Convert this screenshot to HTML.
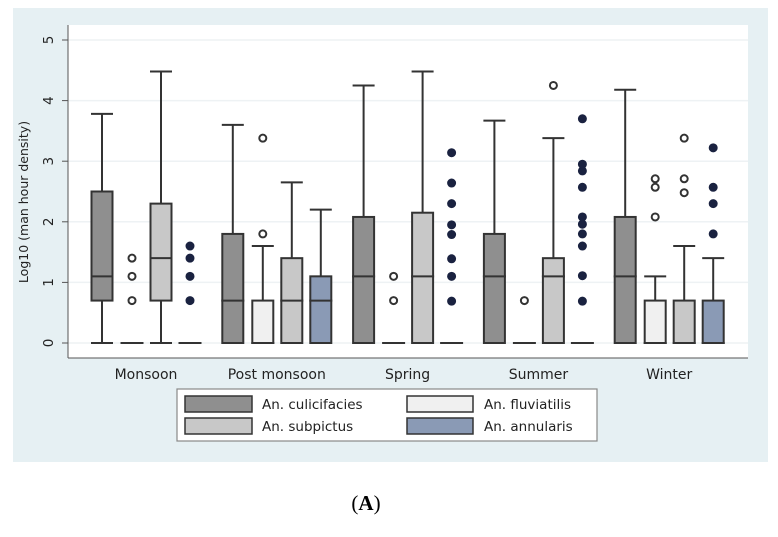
<!DOCTYPE html>
<html><head><meta charset="utf-8"><style>
body{margin:0;background:#fff;}
svg{display:block;font-family:"DejaVu Sans","Liberation Sans",sans-serif;}
</style></head><body>
<svg id="chart" width="778" height="537">
<rect x="13" y="8" width="755" height="454" fill="#e6f0f3"/>
<rect x="68" y="25" width="680" height="333" fill="#fff"/>
<g id="grid"></g>
<line x1="68" y1="25" x2="68" y2="358" stroke="#555" stroke-width="1"/>
<line x1="68" y1="358" x2="748" y2="358" stroke="#555" stroke-width="1"/>
<g id="marks"></g>
<text transform="translate(28,202) rotate(-90)" text-anchor="middle" font-size="12.5" fill="#222">Log10 (man hour density)</text>
<g>
<rect x="177" y="389" width="420" height="52" fill="#fff" stroke="#888" stroke-width="1.2"/>
<rect x="185" y="396" width="67" height="16" fill="#8f8f8f" stroke="#333" stroke-width="1.5"/>
<text x="262" y="409" font-size="13.5" fill="#222">An. culicifacies</text>
<rect x="407" y="396" width="66" height="16" fill="#f0f0f0" stroke="#333" stroke-width="1.5"/>
<text x="484" y="409" font-size="13.5" fill="#222">An. fluviatilis</text>
<rect x="185" y="418" width="67" height="16" fill="#c8c8c8" stroke="#333" stroke-width="1.5"/>
<text x="262" y="431" font-size="13.5" fill="#222">An. subpictus</text>
<rect x="407" y="418" width="66" height="16" fill="#8a9ab5" stroke="#333" stroke-width="1.5"/>
<text x="484" y="431" font-size="13.5" fill="#222">An. annularis</text>
</g>
<text x="366" y="510" text-anchor="middle" font-family="Liberation Serif,serif" font-size="21" fill="#000">(<tspan font-weight="bold">A</tspan>)</text>
</svg>
<script>
const categories=["Monsoon","Post monsoon","Spring","Summer","Winter"];
const species=["culicifacies","fluviatilis","subpictus","annularis"];
const yTicks=[0,1,2,3,4,5];
// [whiskerLow, q1, median, q3, whiskerHigh] per category per species
const culicifacies=[[0,0.7,1.1,2.5,3.78],[0,0,0.7,1.8,3.6],[0,0,1.1,2.08,4.25],[0,0,1.1,1.8,3.67],[0,0,1.1,2.08,4.18]];
const fluviatilis=[[0,0,0,0,0],[0,0,0,0.7,1.6],[0,0,0,0,0],[0,0,0,0,0],[0,0,0,0.7,1.1]];
const subpictus=[[0,0.7,1.4,2.3,4.48],[0,0,0.7,1.4,2.65],[0,0,1.1,2.15,4.48],[0,0,1.1,1.4,3.38],[0,0,0,0.7,1.6]];
const annularis=[[0,0,0,0,0],[0,0,0.7,1.1,2.2],[0,0,0,0,0],[0,0,0,0,0],[0,0,0,0.7,1.4]];
const outCulicifacies=[[],[],[],[],[]];
const outFluviatilis=[[0.7,1.1,1.4],[1.8,3.38],[0.7,1.1],[0.7],[2.08,2.57,2.71]];
const outSubpictus=[[],[],[],[4.25],[2.48,2.71,3.38]];
const outAnnularis=[[0.7,1.1,1.4,1.6],[],[0.69,1.1,1.39,1.79,1.95,2.3,2.64,3.14],[0.69,1.11,1.6,1.8,1.96,2.08,2.57,2.84,2.95,3.7],[1.8,2.3,2.57,3.22]];

const boxes=[culicifacies,fluviatilis,subpictus,annularis];
const outs=[outCulicifacies,outFluviatilis,outSubpictus,outAnnularis];
const fills=["#8f8f8f","#f0f0f0","#c8c8c8","#8a9ab5"];
const NS="http://www.w3.org/2000/svg";
const y=v=>343-v*60.6;
const gx=i=>146+i*130.8;
const offs=[-44,-14,15,44];
const grid=document.getElementById('grid'),marks=document.getElementById('marks'),svg=document.getElementById('chart');
function mk(tag,attrs,parent){const e=document.createElementNS(NS,tag);for(const k in attrs)e.setAttribute(k,attrs[k]);parent.appendChild(e);return e;}
yTicks.forEach(t=>{
 const l=mk('line',{x1:68,x2:748,y1:y(t),y2:y(t),stroke:'#eef2f4','stroke-width':1.5},grid);
 
 
 const tk=mk('line',{x1:62,x2:68,y1:y(t),y2:y(t),stroke:'#555'},grid);
 
 
 const tx=mk('text',{transform:`translate(${53},${y(t)}) rotate(-90)`,'text-anchor':'middle','font-size':13.5,fill:'#222'},grid);
 tx.textContent=t;
 
 
});
categories.forEach((c,i)=>{
 const tx=mk('text',{x:gx(i),y:379,'text-anchor':'middle','font-size':14,fill:'#222'},svg);
 tx.textContent=c;
 
 
 species.forEach((s,j)=>{
  const cx=gx(i)+offs[j],w=21;
  const [lo,q1,md,q3,hi]=boxes[j][i];
  const g=mk('g',{},marks);
  
  
  const st={stroke:'#333','stroke-width':2};
  if(hi>q3){mk('line',Object.assign({x1:cx,x2:cx,y1:y(q3),y2:y(hi)},st),g);mk('line',Object.assign({x1:cx-11,x2:cx+11,y1:y(hi),y2:y(hi)},st),g);}
  if(lo<q1){mk('line',Object.assign({x1:cx,x2:cx,y1:y(lo),y2:y(q1)},st),g);mk('line',Object.assign({x1:cx-11,x2:cx+11,y1:y(lo),y2:y(lo)},st),g);}
  if(q3>q1){mk('rect',Object.assign({x:cx-w/2,y:y(q3),width:w,height:y(q1)-y(q3),fill:fills[j]},st),g);}
  mk('line',Object.assign({x1:cx-w/2-1,x2:cx+w/2+1,y1:y(md),y2:y(md)},st),g);
  outs[j][i].forEach(v=>{
   const filled=j===3;
   const o=mk('circle',{cx:cx,cy:y(v),r:filled?4:3.5,fill:filled?'#1a2240':'#fff',stroke:filled?'#1a2240':'#333','stroke-width':filled?1:2},g);
   
   
  });
 });
});
</script>
</body></html>
